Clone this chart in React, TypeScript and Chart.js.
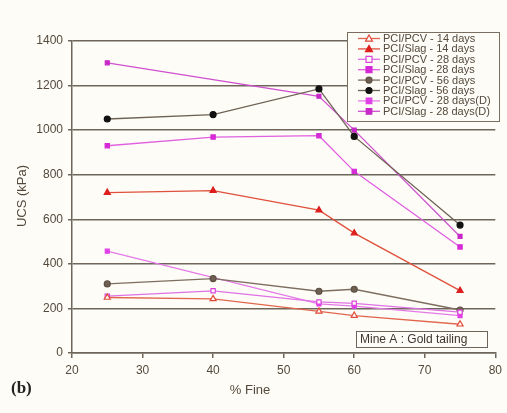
import React, { useEffect, useRef } from "react";
import { Chart, registerables } from "chart.js";

Chart.register(...registerables);

const fines = [25, 40, 55, 60, 75];
const pcv14 = [249, 243, 187, 168, 129];
const slag14 = [720, 729, 641, 538, 280];
const pcv28 = [255, 279, 229, 223, 183];
const slag28 = [930, 969, 975, 815, 476];
const pcv56 = [310, 334, 277, 286, 193];
const slag56 = [1050, 1070, 1185, 972, 574];
const pcv28D = [457, null, 220, 210, 168];
const slag28D = [1302, null, 1152, 1000, 523];

const xTicks = [20, 30, 40, 50, 60, 70, 80];
const yTicks = [0, 200, 400, 600, 800, 1000, 1200, 1400];

const labels = [
  "PCI/PCV - 14 days",
  "PCI/Slag - 14 days",
  "PCI/PCV - 28 days",
  "PCI/Slag - 28 days",
  "PCI/PCV - 56 days",
  "PCI/Slag - 56 days",
  "PCI/PCV - 28 days(D)",
  "PCI/Slag - 28 days(D)",
];

const BG = "#fdfcf6";
const GRID = "#6f665b";
const TXT = "#54493d";
const FONT = "'Liberation Sans', Arial, sans-serif";

type Style = { line: string; pt: string; fill: string; shape: "triangle" | "rect" | "circle"; r: number };
const styles: Style[] = [
  { line: "#e2674f", pt: "#e04a3a", fill: BG, shape: "triangle", r: 3.5 },
  { line: "#e0503c", pt: "#dd1f1f", fill: "#dd1f1f", shape: "triangle", r: 3.5 },
  { line: "#e070e6", pt: "#dd44dd", fill: BG, shape: "rect", r: 3 },
  { line: "#e060e0", pt: "#d62ad6", fill: "#d62ad6", shape: "rect", r: 3 },
  { line: "#7d6e60", pt: "#5e5042", fill: "#6e6052", shape: "circle", r: 3 },
  { line: "#6e6254", pt: "#111111", fill: "#111111", shape: "circle", r: 3 },
  { line: "#e47ae8", pt: "#e040e8", fill: "#e040e8", shape: "rect", r: 2.8 },
  { line: "#d050d0", pt: "#c828c8", fill: "#c828c8", shape: "rect", r: 2.8 },
];

const series = [pcv14, slag14, pcv28, slag28, pcv56, slag56, pcv28D, slag28D];

function drawMarker(ctx: CanvasRenderingContext2D, s: Style, x: number, y: number) {
  ctx.save();
  ctx.fillStyle = s.fill;
  ctx.strokeStyle = s.pt;
  ctx.lineWidth = 1.2;
  ctx.beginPath();
  if (s.shape === "circle") {
    ctx.arc(x, y, s.r, 0, Math.PI * 2);
  } else if (s.shape === "rect") {
    ctx.rect(x - s.r, y - s.r, s.r * 2, s.r * 2);
  } else {
    const r = s.r;
    ctx.moveTo(x, y - r);
    ctx.lineTo(x + r, y + r * 0.75);
    ctx.lineTo(x - r, y + r * 0.75);
    ctx.closePath();
  }
  ctx.fill();
  ctx.stroke();
  ctx.restore();
}

const decor = {
  id: "decor",
  beforeDraw(chart: any) {
    const ctx = chart.ctx;
    ctx.save();
    ctx.fillStyle = BG;
    ctx.fillRect(0, 0, chart.width, chart.height);
    ctx.restore();
  },
  afterDraw(chart: any) {
    const ctx: CanvasRenderingContext2D = chart.ctx;
    ctx.save();
    // legend
    const lx = 347, ly = 32, lw = 152, lh = 89;
    ctx.fillStyle = BG;
    ctx.fillRect(lx, ly, lw, lh);
    ctx.strokeStyle = "#7a6e60";
    ctx.lineWidth = 1;
    ctx.strokeRect(lx + 0.5, ly + 0.5, lw, lh);
    ctx.font = `11px ${FONT}`;
    ctx.textBaseline = "middle";
    ctx.textAlign = "left";
    labels.forEach((lab, i) => {
      const y = 38.5 + i * 10.4;
      const s = styles[i];
      ctx.strokeStyle = s.line;
      ctx.lineWidth = 1.3;
      ctx.beginPath();
      ctx.moveTo(358, y);
      ctx.lineTo(380, y);
      ctx.stroke();
      drawMarker(ctx, s, 369, y);
      ctx.fillStyle = TXT;
      ctx.fillText(lab, 383, y + 0.5);
    });
    // Mine A box
    ctx.fillStyle = BG;
    ctx.fillRect(356, 331, 131, 16);
    ctx.strokeStyle = "#6e655a";
    ctx.lineWidth = 1;
    ctx.strokeRect(356.5, 331.5, 131, 16);
    ctx.fillStyle = "#3e352c";
    ctx.font = `12px ${FONT}`;
    ctx.fillText("Mine A : Gold tailing", 360, 340);
    // axis titles
    ctx.fillStyle = TXT;
    ctx.font = `13px ${FONT}`;
    ctx.textAlign = "center";
    ctx.fillText("% Fine", 250, 390);
    ctx.save();
    ctx.translate(22, 196);
    ctx.rotate(-Math.PI / 2);
    ctx.fillText("UCS (kPa)", 0, 0);
    ctx.restore();
    // (b)
    ctx.fillStyle = "#222";
    ctx.font = `bold 17px 'Liberation Serif', 'Times New Roman', serif`;
    ctx.textAlign = "left";
    ctx.fillText("(b)", 11, 389);
    ctx.restore();
  },
};

export default function App() {
  const ref = useRef<HTMLCanvasElement>(null);
  useEffect(() => {
    if (!ref.current) return;
    const datasets = series.map((vals, i) => {
      const s = styles[i];
      return {
        label: labels[i],
        data: fines.map((f, j) => ({ x: f, y: vals[j] })),
        borderColor: s.line,
        backgroundColor: s.fill,
        pointBorderColor: s.pt,
        pointBackgroundColor: s.fill,
        pointStyle: s.shape,
        pointRadius: s.r,
        pointBorderWidth: 1.2,
        borderWidth: 1.3,
        spanGaps: true,
        tension: 0,
      };
    });
    const chart = new Chart(ref.current, {
      type: "line",
      data: { datasets: datasets as any },
      options: {
        animation: false,
        responsive: false,
        layout: { padding: { left: 0, top: 41, right: 10, bottom: 0 } },
        plugins: { legend: { display: false }, tooltip: { enabled: false } },
        scales: {
          x: {
            type: "linear",
            min: 20,
            max: 80,
            afterBuildTicks: (sc: any) => {
              sc.ticks = xTicks.map((v) => ({ value: v }));
            },
            afterFit: (sc: any) => {
              sc.height = 60;
            },
            ticks: { color: TXT, font: { size: 12, family: FONT }, padding: 5, maxRotation: 0, callback: (v: any) => String(v) },
            grid: { drawOnChartArea: false, drawTicks: true, tickLength: 5, color: GRID, lineWidth: 1.5 },
            border: { display: true, color: GRID, width: 1.5 },
          },
          y: {
            type: "linear",
            min: 0,
            max: 1400,
            afterBuildTicks: (sc: any) => {
              sc.ticks = yTicks.map((v) => ({ value: v }));
            },
            afterFit: (sc: any) => {
              sc.width = 72;
            },
            ticks: { color: TXT, font: { size: 12, family: FONT }, padding: 5, callback: (v: any) => String(v) },
            grid: { drawOnChartArea: true, drawTicks: true, tickLength: 4, color: GRID, lineWidth: 1.5 },
            border: { display: true, color: GRID, width: 1.5 },
          },
        },
      },
      plugins: [decor],
    });
    return () => chart.destroy();
  }, []);
  return (
    <div style={{ position: "absolute", left: 0, top: 0, width: 507, height: 413 }}>
      <canvas ref={ref} width={507} height={413} />
    </div>
  );
}
